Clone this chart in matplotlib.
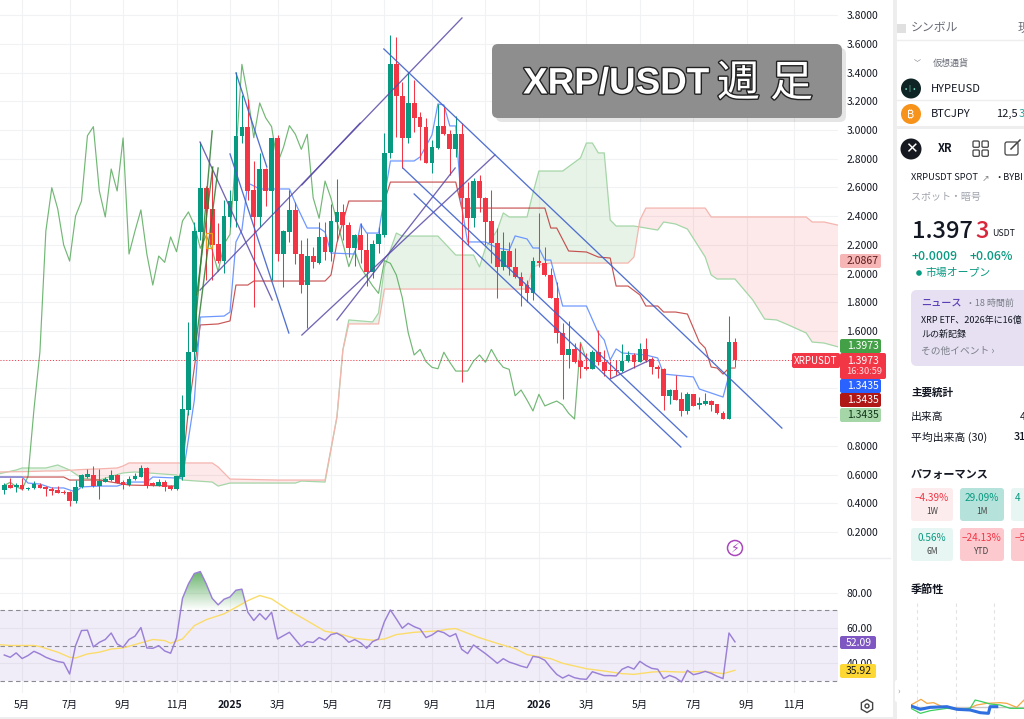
import numpy as np
import matplotlib
matplotlib.use('Agg')
import matplotlib.pyplot as plt
import matplotlib.patheffects as pe
from matplotlib.patches import FancyBboxPatch, Rectangle, Circle, RegularPolygon
from matplotlib.path import Path

plt.rcParams['font.family'] = ['Noto Sans CJK JP', 'DejaVu Sans']

# weekly candles
op = [.496,.524,.511,.530,.497,.504,.530,.511,.500,.491,
      .481,.477,.416,.516,.581,.597,.520,.550,.562,.597,
      .548,.527,.567,.585,.646,.539,.523,.548,.520,.497,
      .583,1.050,1.454,2.291,2.598,2.450,2.204,2.087,2.396,2.505,
      2.960,3.023,2.582,2.394,2.728,2.575,2.944,2.136,2.291,2.443,
      2.136,1.920,2.122,2.076,2.255,2.152,2.361,2.429,2.340,2.176,
      2.266,2.164,2.013,2.204,2.268,2.837,3.457,3.236,2.946,3.188,
      3.088,3.023,2.772,2.874,3.030,2.970,2.865,2.970,2.528,2.385,
      2.644,2.528,2.364,2.211,2.048,2.157,2.043,1.978,1.920,1.862,
      2.090,2.071,1.990,1.832,1.588,1.433,1.472,1.393,1.351,1.335,
      1.452,1.386,1.328,1.328,1.321,1.391,1.433,1.382,1.472,1.403,
      1.351,1.333,1.149,1.189,1.124,1.043,1.159,1.083,1.089,1.112,
      1.089,1.031,.987,1.521]
cl = [.524,.510,.527,.497,.507,.532,.509,.497,.486,.474,
      .474,.416,.516,.597,.604,.520,.553,.567,.599,.543,
      .525,.567,.588,.644,.520,.525,.546,.516,.497,.588,
      1.055,1.454,2.296,2.598,2.450,2.199,2.087,2.401,2.505,2.960,
      3.023,2.575,2.394,2.728,2.575,2.944,2.136,2.296,2.443,2.136,
      1.920,2.122,2.078,2.255,2.152,2.366,2.429,2.338,2.176,2.266,
      2.164,2.013,2.206,2.273,2.837,3.457,3.236,2.946,3.188,3.085,
      3.023,2.768,2.879,3.030,2.970,2.865,2.970,2.528,2.385,2.644,
      2.524,2.361,2.211,2.048,2.157,2.043,1.978,1.915,1.862,2.090,
      2.071,1.990,1.832,1.588,1.433,1.472,1.386,1.347,1.337,1.452,
      1.382,1.321,1.321,1.321,1.391,1.433,1.382,1.472,1.398,1.347,
      1.333,1.149,1.189,1.119,1.043,1.159,1.078,1.096,1.112,1.085,
      1.027,.987,1.521,1.3973]
hi = [.541,.573,.541,.576,.514,.555,.541,.520,.514,.520,
      .493,.486,.562,.604,.639,.660,.639,.583,.632,.604,
      .562,.590,.611,.667,.653,.548,.569,.562,.527,.590,
      1.154,1.663,2.359,2.916,2.610,2.742,2.352,2.512,2.582,3.404,
      3.243,3.216,2.784,2.840,2.735,2.944,2.965,2.303,2.582,2.500,
      2.234,2.250,2.187,2.361,2.361,2.484,2.658,2.484,2.361,2.275,
      2.352,2.282,2.234,2.326,2.979,3.661,3.649,3.336,3.406,3.348,
      3.127,3.083,2.930,3.181,3.160,3.000,3.097,3.048,2.640,2.663,
      2.686,2.535,2.582,2.317,2.289,2.222,2.178,2.013,1.955,2.117,
      2.420,2.183,2.039,1.943,1.653,1.672,1.518,1.514,1.445,1.468,
      1.607,1.468,1.393,1.398,1.507,1.463,1.447,1.514,1.549,1.421,
      1.363,1.342,1.194,1.293,1.177,1.177,1.161,1.142,1.166,1.119,
      1.092,1.043,1.704,1.549]
lo = [.465,.507,.479,.493,.493,.500,.507,.451,.458,.472,
      .465,.381,.402,.507,.576,.514,.430,.548,.555,.541,
      .500,.520,.562,.583,.507,.520,.520,.486,.493,.493,
      .562,1.015,1.398,2.234,1.955,1.955,2.073,2.004,2.324,2.324,
      2.911,2.512,1.769,2.324,2.473,1.955,2.087,1.906,2.222,2.066,
      1.867,1.621,2.039,2.066,2.094,2.087,2.227,2.234,2.117,2.055,
      2.073,1.913,1.969,2.143,2.255,2.805,2.953,2.735,2.909,2.986,
      2.791,2.768,2.702,2.865,2.965,2.686,2.814,1.247,2.199,2.326,
      2.431,2.199,2.071,1.830,2.025,1.990,1.969,1.776,1.804,1.816,
      2.048,1.983,1.830,1.516,1.124,1.340,1.375,1.271,1.328,1.335,
      1.363,1.287,1.275,1.293,1.316,1.386,1.344,1.382,1.386,1.300,
      1.271,1.050,1.092,1.119,1.010,1.022,1.078,1.057,1.085,1.045,
      1.020,.985,.987,1.351]

# ichimoku lines (week, price)
tenkan_w = [-1,3,4,6,8,10,12,13,16,19,21,24,25,29,30,32,33,37,38,39,40,41,43,48,49,51,53,54,55,59,60,61,63,65,69,70,72,73,74,75,76,77,78,81,83,85,86,88,89,90,91,92,94,98,100,101,102,103,104,108,110,111,116,117,121,122]
tenkan_p = [.583,.583,.541,.534,.507,.507,.479,.514,.520,.520,.548,.548,.583,.576,.576,1.119,1.697,1.704,1.732,2.220,2.303,2.631,2.589,2.589,2.491,2.317,2.317,2.289,2.143,2.136,2.345,2.282,2.282,2.784,2.784,2.812,2.965,3.181,3.174,3.028,3.028,2.463,2.220,2.220,2.178,2.164,2.262,2.241,2.178,2.178,2.094,2.094,1.774,1.774,1.586,1.537,1.398,1.475,1.447,1.433,1.412,1.300,1.280,1.196,1.140,1.293]
kijun_w = [-1,10,11,16,21,29,30,31,33,36,38,39,41,42,54,55,56,58,64,65,76,77,91,92,93,95,98,100,102,103,105,107,108,110,111,113,115,117,118,119,120,121,122,123]
kijun_p = [.583,.583,.562,.562,.527,.520,.653,1.050,1.642,1.649,1.670,1.920,1.920,1.948,1.948,1.990,2.213,2.505,2.505,2.637,2.637,2.456,2.456,2.317,2.317,2.157,2.150,2.115,2.108,1.913,1.913,1.851,1.774,1.774,1.732,1.732,1.718,1.523,1.481,1.349,1.342,1.300,1.342,1.342]
kumo_w = [-1,2,3,7,9,11,13,16,19,20,21,22,29,30,35,36,38,46,49,50,54,56,57,58,62,63,64,66,67,73,76,79,80,81,83,84,85,88,89,90,92,94,97,98,99,100,101,102,103,105,106,107,108,110,111,113,115,118,119,120,123,126,128,130,132,135,136,138,141]
span_a = [.604,.632,.646,.646,.667,.632,.576,.562,.600,.611,.615,.618,.597,.562,.548,.520,.541,.541,.541,.555,.548,1.001,1.468,1.677,1.663,1.725,2.046,2.282,2.261,2.261,2.129,2.129,2.046,2.178,2.303,2.422,2.394,2.394,2.561,2.714,2.714,2.714,2.805,2.909,2.909,2.840,2.840,2.373,2.331,2.331,2.331,2.324,2.317,2.303,2.359,2.345,2.310,2.115,1.990,1.962,1.962,1.816,1.683,1.677,1.642,1.586,1.523,1.516,1.482]
span_b = [.618,.620,.620,.625,.625,.630,.635,.640,.646,.660,.681,.681,.681,.681,.681,.653,.569,.562,.562,.562,.562,1.001,1.468,1.649,1.649,1.649,1.892,1.892,1.892,1.892,1.892,1.892,1.892,1.892,1.892,1.892,1.892,1.892,2.046,2.060,2.073,2.073,2.073,2.073,2.073,2.073,2.073,2.073,2.073,2.073,2.115,2.373,2.456,2.456,2.456,2.456,2.456,2.456,2.394,2.394,2.394,2.394,2.394,2.394,2.394,2.394,2.359,2.359,2.331]

# hand drawn trend lines: week0, price0, week1, price1
lines_purple = [(32.95,1.885,77.05,3.780),(50.1,2.617,59.9,3.048),(50.1,1.572,82.6,2.826),(56.0,1.677,75.9,2.735),(32.95,2.916,45.1,1.816),(102,1.266,108.7,1.398)]
lines_blue = [(39.0,3.397,44.2,2.742),(38.0,2.833,47.9,1.586),(63.9,3.564,130.9,.924),(67.1,2.735,114.9,.862),(69.0,2.554,113.9,.792)]
lines_green = [(31.8,1.468,35.0,2.993),(32.1,1.468,36.0,2.735),(32.4,1.851,35.1,2.742)]

rsi = [44.6,43.3,45.8,42.6,44.3,46.7,45.2,43.3,42.0,40.9,
       40.3,33.8,49.9,58.5,58.7,49.2,51.8,53.4,57.1,50.9,
       49.0,53.4,55.3,60.2,48.6,48.4,49.9,46.9,45.6,54.3,
       76.8,85.0,90.9,92.0,85.0,76.8,73.1,76.3,77.6,81.4,
       82.0,68.9,64.2,68.1,64.7,68.9,53.7,55.6,57.5,53.4,
       49.4,52.2,51.7,54.5,53.0,56.2,57.0,55.1,51.8,53.4,
       51.5,48.4,52.2,53.7,63.6,70.2,65.1,59.8,62.6,60.7,
       59.4,54.5,56.0,58.3,57.3,55.1,56.7,47.8,45.4,50.3,
       47.8,45.4,42.7,39.9,42.5,40.6,39.5,38.3,37.4,43.8,
       43.3,41.6,37.4,33.6,31.5,33.2,31.7,31.0,30.8,35.1,
       34.0,32.9,32.9,32.7,36.5,38.0,36.6,41.0,38.7,37.0,
       36.5,31.2,33.0,31.7,29.3,35.9,33.4,34.2,35.3,34.2,
       32.5,31.2,57.1,52.09]
rsi_ma_w = [-1,1,5,6,9,11,12,14,16,18,20,23,25,27,28,30,32,34,37,39,41,43,45,48,50,54,56,59,62,64,66,69,73,75,76,80,83,86,88,92,94,98,101,104,106,109,111,114,118,121,123]
rsi_ma = [50.5,50,50,49.4,46.2,43.3,42.9,45.2,46.2,48.0,48.6,51.5,53.4,52.8,51.3,53.7,61.3,64.7,68.0,71.7,75.5,78.4,76.5,69.8,66.0,58.1,57.0,54.1,53,53.7,56.2,57.5,58.3,59.4,59.6,54.4,51.2,48.2,44.8,42.5,39.9,36.8,35.5,34.0,33.6,34.9,35.3,34.9,35.3,34.0,35.92]

price_ticks = [3.8,3.6,3.4,3.2,3.0,2.8,2.6,2.4,2.2,2.0,1.8,1.6,1.4,1.2,1.0,.8,.6,.4,.2]
hidden_ticks = [1.4,1.2,1.0]  # sit behind the price tags
rsi_ticks = [80,60,40]
month_w = [3,11,20,29,38,46,55,64,72,81,90,98,107,116,125,133]
month_lab = ['5月','7月','9月','11月','2025','3月','5月','7月','9月','11月','2026','3月','5月','7月','9月','11月']

# seasonal mini chart on the right, only the bottom edge shows
sea_x_b = [62,90,120,170,200,240,270,295,300,320]
sea_b = [1038,1048,1042,1040,1048,1050,1058,1060,1040,1040]
sea_x_o = [62,92,110,130,160,200,230,260,290,330,350,380,402]
sea_o = [1035,1018,1030,1028,1042,1045,1048,1035,1030,1028,1030,1042,1020]
sea_x_g = [62,90,120,170,210,240,255,275,300,330,360,402]
sea_g = [1045,1060,1052,1045,1048,1045,1020,1025,1032,1035,1045,1045]

W, H = 1024, 719
UP, DOWN = '#089981', '#f23645'
GRID = '#f1f2f4'
TXT = '#131722'

fig = plt.figure(figsize=(W/100, H/100), dpi=100)

def make_ax(x0, y0, x1, y1):
    a = fig.add_axes([x0/W, 1-y1/H, (x1-x0)/W, (y1-y0)/H])
    for s in a.spines.values():
        s.set_visible(False)
    return a

ax = make_ax(0, 0, 838, 558)
rs = make_ax(0, 558, 838, 693)
xlim = (-0.72, 140.35)

x = np.arange(len(op))
op, cl, hi, lo = map(np.array, (op, cl, hi, lo))

# kumo
kw, sa, sb = np.array(kumo_w), np.array(span_a), np.array(span_b)
ax.fill_between(kw, sa, sb, where=sa>=sb, interpolate=True, color='#43a047', alpha=.12, lw=0)
ax.fill_between(kw, sa, sb, where=sa<=sb, interpolate=True, color='#f23645', alpha=.11, lw=0)
ax.plot(kw, sa, color='#a5d6a7', lw=.9)
ax.plot(kw, sb, color='#f5b5ae', lw=.9)

# chikou is the close moved back 25 weeks
ax.plot(x[:-25], cl[25:], color='#43a047', lw=.85, alpha=.75)
ax.plot(kijun_w, kijun_p, color='#b71c1c', lw=.85, alpha=.75)
ax.plot(tenkan_w, tenkan_p, color='#5f8dff', lw=.9, alpha=.9)

# candles
col = np.where(cl >= op, UP, DOWN)
ax.vlines(x, lo, hi, colors=col, lw=.75, zorder=3)
ax.bar(x, np.maximum(np.abs(cl-op), .006), bottom=np.minimum(op, cl), width=.8, color=col, zorder=4, lw=0)

for t in lines_purple:
    ax.plot([t[0], t[2]], [t[1], t[3]], color='#5a4ba8', lw=.95, alpha=.85, zorder=5)
for t in lines_blue:
    ax.plot([t[0], t[2]], [t[1], t[3]], color='#3f62cc', lw=.95, alpha=.9, zorder=5)
for t in lines_green:
    ax.plot([t[0], t[2]], [t[1], t[3]], color='#2e7d32', lw=1, alpha=.85, zorder=5)
ax.add_patch(Rectangle((34.0, 2.18), .9, .105, fill=False, ec='#f09a20', lw=.9, zorder=6))

ax.axhline(cl[-1], color=DOWN, lw=.7, ls=(0, (1, 2)), zorder=2)

ax.set_xlim(*xlim)
ax.set_ylim(3.905-.006964*558, 3.905)
ax.set_xticks(month_w)
ax.set_yticks(price_ticks)
ax.set_yticklabels(['' if p in hidden_ticks else '%.4f' % p for p in price_ticks], fontsize=7.5, color=TXT)
ax.yaxis.tick_right()
ax.tick_params(axis='y', length=0, pad=6)
ax.tick_params(axis='x', length=0, labelbottom=False)
ax.grid(color=GRID, lw=.8)
ax.set_axisbelow(True)

# rsi pane
rsi = np.array(rsi)
rs.axhspan(30, 70, color='#7e57c2', alpha=.1, lw=0)
for v in (70, 50, 30):
    rs.axhline(v, color='#8a8a94', lw=.8, ls=(0, (4, 3)))
poly = rs.fill_between(x, rsi, 70, where=rsi>70, interpolate=True, color='none', lw=0)
grad = np.zeros((64, 2, 4))
grad[..., :3] = matplotlib.colors.to_rgb('#43a047')
grad[..., 3] = np.linspace(.8, 0, 64)[:, None]
im = rs.imshow(grad, extent=(xlim[0], xlim[1], 70, 92), aspect='auto', zorder=2)
im.set_clip_path(Path.make_compound_path(*poly.get_paths()), transform=rs.transData)
rs.plot(rsi_ma_w, rsi_ma, color='#fbdc6a', lw=1)
rs.plot(x, rsi, color='#9a80d6', lw=1.05, zorder=4)
rs.set_xlim(*xlim)
rs.set_ylim(80-(693-592.7)/1.76, 80+(592.7-558)/1.76)
rs.set_yticks(rsi_ticks)
rs.set_yticklabels(['%.2f' % v for v in rsi_ticks], fontsize=7.5, color=TXT)
rs.yaxis.tick_right()
rs.tick_params(axis='y', length=0, pad=6)
rs.set_xticks(month_w)
rs.set_xticklabels(month_lab, fontsize=7.5, color=TXT)
rs.tick_params(axis='x', length=0, pad=5)
for lab in rs.get_xticklabels():
    if lab.get_text() in ('2025', '2026'):
        lab.set_fontweight('bold')
rs.grid(color=GRID, lw=.8)
rs.set_axisbelow(True)

# overlay in pixels for the tags and the side panel
ov = fig.add_axes([0, 0, 1, 1], zorder=10)
ov.set_xlim(0, W)
ov.set_ylim(H, 0)
ov.axis('off')
ov.patch.set_alpha(0)

def box(x0, y0, x1, y1, fc, r=2, **kw):
    ov.add_patch(FancyBboxPatch((x0+r, y0+r), x1-x0-2*r, y1-y0-2*r, boxstyle='round,pad=%g,rounding_size=%g' % (r, r), fc=fc, ec='none', **kw))

def txt(x0, y0, s, size=7, color=TXT, ha='left', weight='normal', **kw):
    return ov.text(x0, y0, s, fontsize=size, color=color, ha=ha, va='center', fontweight=weight, clip_on=True, **kw)

# chart separators and gutter
ov.plot([0, 890], [558, 558], color='#eceef2', lw=1)
ov.add_patch(Rectangle((0, 716.5), 897, 3, fc='#eeeeee', ec='none'))
ov.add_patch(Rectangle((893, 0), 4, H, fc='#eeeeee', ec='none'))

# price tags
box(840, 254, 881, 268, '#f6b6b6')
txt(847, 261, '2.0867', 7.5, '#5a1a1a')
box(840, 339, 881, 353, '#43a047')
txt(847, 346, '1.3973', 7.5, 'white')
box(792, 353, 840, 368, DOWN)
txt(816, 360.5, 'XRPUSDT', 7, 'white', ha='center')
box(840, 353, 886, 379, DOWN)
txt(847, 360.5, '1.3973', 7.5, 'white')
txt(846, 372, '16:30:59', 6.7, '#ffdde0')
box(840, 379, 881, 393, '#2962ff')
txt(847, 386, '1.3435', 7.5, 'white')
box(840, 393, 881, 407, '#b01717')
txt(847, 400, '1.3435', 7.5, 'white')
box(840, 408, 881, 422, '#a5d6a7')
txt(847, 415, '1.3435', 7.5, '#12351a')
box(840, 636, 876, 649, '#7e57c2')
txt(846, 642.5, '52.09', 7.5, 'white')
box(840, 664, 876, 678, '#fdd835')
txt(846, 671, '35.92', 7.5, TXT)

# title card
box(496, 48, 846, 122, '#000000', r=6, alpha=.1)
box(492, 44, 842, 118, '#8e8e8e', r=6)
outline = [pe.withStroke(linewidth=2, foreground='#222222')]
ov.text(616, 84, 'XRP/USDT', fontsize=26.5, color='white', fontweight='bold', ha='center', va='center', family=['Liberation Sans', 'DejaVu Sans'], path_effects=outline)
ov.text(717, 84, '週', fontsize=31, color='white', ha='left', va='center', path_effects=outline)
ov.text(770, 84, '足', fontsize=31, color='white', ha='left', va='center', path_effects=outline)

# event and settings icons
ov.add_patch(Circle((735, 548), 7.5, fc='white', ec='#ab47bc', lw=1.1))
ov.text(735, 548, '\u26a1', fontsize=9, color='#ab47bc', ha='center', va='center', family='DejaVu Sans')
ov.add_patch(RegularPolygon((867, 706), 6, radius=6.5, fill=False, ec='#444444', lw=1))
ov.add_patch(Circle((867, 706), 2, fill=False, ec='#444444', lw=1))

# side panel
ov.add_patch(Rectangle((897, 24), 9, 9, fc='#e0e0e0', ec='none'))
txt(911, 28, 'シンボル', 8.6, '#6a6d78')
txt(1018, 28, '現', 8.6, '#6a6d78')
ov.plot([897, 1024], [40, 40], color='#eeeeee', lw=1)
txt(914, 63, '﹀', 5, '#6a6d78')
txt(933, 63.5, '仮想通貨', 6.5, '#6a6d78')
ov.add_patch(Circle((911, 88.5), 10, fc='#0f2424', ec='none'))
txt(911, 88.5, '•‖•', 5, '#7de3c8', ha='center')
txt(931, 89, 'HYPEUSD', 8, TXT)
ov.plot([897, 1024], [100, 100], color='#eeeeee', lw=1)
ov.add_patch(Circle((911, 114), 10, fc='#f7931a', ec='none'))
txt(911, 114, '₿', 8, 'white', ha='center', family=['Inter', 'Roboto', 'Noto Sans', 'Open Sans', 'Lato', 'DejaVu Sans'])
txt(931, 114, 'BTCJPY', 8, TXT)
txt(996, 114, '12,5', 8, TXT)
txt(1019, 114, '3', 8, '#26a69a')
ov.add_patch(Rectangle((897, 125.5), 127, 3.5, fc='#eeeeee', ec='none'))
ov.add_patch(Circle((911, 149), 10.5, fc='#16191f', ec='none'))
txt(911, 149, '✕', 11, 'white', ha='center', family='DejaVu Sans')
txt(938, 149, 'XR', 8, TXT, weight='bold')
for bx in (973, 982):
    for by in (141, 150):
        ov.add_patch(FancyBboxPatch((bx, by), 6.3, 6.3, boxstyle='round,pad=0,rounding_size=1.2', fill=False, ec='#444444', lw=.9))
ov.add_patch(FancyBboxPatch((1005, 142), 13, 13, boxstyle='round,pad=0,rounding_size=2', fill=False, ec='#444444', lw=.9))
ov.plot([1011, 1020], [149, 140], color='#444444', lw=1.1)
txt(911, 178, 'XRPUSDT SPOT', 6.7, TXT)
txt(982, 178, '↗', 6.5, '#888888', family='DejaVu Sans')
txt(994, 178, '・BYBI', 6.7, TXT)
txt(911, 197, 'スポット・暗号', 7.2, '#a0a3ad')
txt(912, 231, '1.397', 17, TXT, weight='medium')
txt(975, 231, '3', 17, '#d9263b', weight='medium')
txt(992, 234, 'USDT', 6.3, TXT)
txt(911, 256, '+0.0009', 8.8, UP, weight='medium')
txt(970, 256, '+0.06%', 8.8, UP, weight='medium')
ov.add_patch(Circle((919, 273), 2.8, fc=UP, ec='none'))
txt(926, 273, '市場オープン', 7.8, UP)
box(911, 290, 1040, 366, '#e6e0f2', r=6)
txt(921, 303, 'ニュース', 7.3, '#5b3db8', weight='medium')
txt(966, 303, '・18 時間前', 6.5, '#7a7d88')
txt(921, 320, 'XRP ETF、2026年に16億', 6.5, TXT)
txt(921, 334, 'ルの新記録', 6.5, TXT)
txt(921, 351, 'その他イベント ›', 7, '#7a7d88')
txt(911, 393, '主要統計', 7.6, TXT, weight='bold')
txt(911, 417, '出来高', 7.8, TXT)
txt(1020, 417, '4', 7.8, TXT)
txt(911, 437, '平均出来高 (30)', 7.8, TXT)
txt(1014, 437, '31', 7.8, TXT, weight='medium')
txt(911, 474, 'パフォーマンス', 8, TXT, weight='bold')
cards = [(911, 953, 488, '#fdecee', '−4.39%', DOWN, '1W'),
         (960, 1004, 488, '#b5e3db', '29.09%', UP, '1M'),
         (1011, 1055, 488, '#e8f6f3', '4', UP, ''),
         (911, 953, 528, '#e8f6f3', '0.56%', UP, '6M'),
         (960, 1004, 528, '#fcc9cf', '−24.13%', DOWN, 'YTD'),
         (1011, 1055, 528, '#fcc9cf', '−5', DOWN, '')]
for c in cards:
    box(c[0], c[2], c[1], c[2]+33, c[3], r=3)
    if c[6]:
        txt((c[0]+c[1])/2, c[2]+10, c[4], 7.2, c[5], ha='center')
        txt((c[0]+c[1])/2, c[2]+24, c[6], 6, '#444444', ha='center')
    else:
        txt(c[0]+4, c[2]+10, c[4], 7.2, c[5])
txt(911, 589, '季節性', 8, TXT, weight='bold')
for vx in (917, 955.5, 994):
    ov.plot([vx, vx], [603, 719], color='#e2e2e2', lw=.8, ls=(0, (3, 3)))
ov.plot([911, 1024], [706.5, 706.5], color='#c8c8c8', lw=1)

sea = make_ax(911, 690, 1024, 719)
sea.set_zorder(11)
sea.patch.set_alpha(0)
sea.set_xlim(62, 402)
sea.set_ylim(1077, 990)
sea.set_xticks([])
sea.set_yticks([])
sea.plot(sea_x_o, sea_o, color='#f5a742', lw=.9)
sea.plot(sea_x_g, sea_g, color='#3ccf5e', lw=.9)
sea.plot(sea_x_b, sea_b, color='#2f6fe0', lw=2.2)

box(895, 680, 902, 702, 'white', r=2)
txt(898.5, 691, '›', 6, '#999999', ha='center')

fig.savefig('out.png', dpi=100, facecolor='white')
